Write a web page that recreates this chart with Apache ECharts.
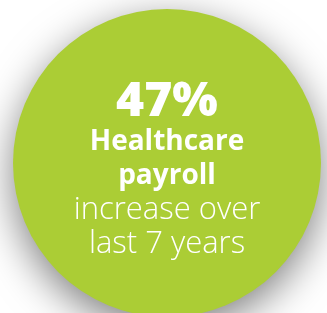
<!DOCTYPE html>
<html>
<head>
<meta charset="utf-8">
<script src="https://cdn.jsdelivr.net/npm/echarts@6/dist/echarts.min.js"></script>
<style>
html,body{margin:0;padding:0;background:#ffffff;}
#c{width:327px;height:313px;}
</style>
</head>
<body>
<div id="c"></div>
<script>
const statValue = ['47%'];
const boldLines = ['Healthcare', 'payroll'];
const lightLines = ['increase over', 'last 7 years'];
const sliceValues = [47];

const chart = echarts.init(document.getElementById('c'), null, {renderer: 'canvas'});
const cx = 167, cy = 163;
const font = '"Open Sans", Lato, sans-serif';
function txt(t, y, f){
  return {type:'text', z:100, x:cx, y:y, style:{text:t, fill:'#fff', font:f, textAlign:'center', textVerticalAlign:'bottom'}};
}
const texts = [];
texts.push(txt(statValue[0], 114 + 12, '800 48px ' + font));
const baselines = [149, 183];
boldLines.forEach((t,i)=>texts.push(txt(t, baselines[i] + 7, 'bold 28px ' + font)));
const baselines2 = [218, 252];
lightLines.forEach((t,i)=>texts.push(txt(t, baselines2[i] + 8, '300 31px ' + font)));

chart.setOption({
  animation:false,
  backgroundColor:'#ffffff',
  series:[{
    type:'pie',
    center:[cx, cy],
    radius:[0, 154],
    silent:true,
    z:1,
    label:{show:false},
    labelLine:{show:false},
    itemStyle:{color:'#abcd35', shadowBlur:40, shadowColor:'rgba(0,0,0,0.5)', shadowOffsetX:0, shadowOffsetY:12, borderWidth:0},
    data: sliceValues.map(v=>({value:v}))
  }],
  graphic: {elements: texts}
});
</script>
</body>
</html>
